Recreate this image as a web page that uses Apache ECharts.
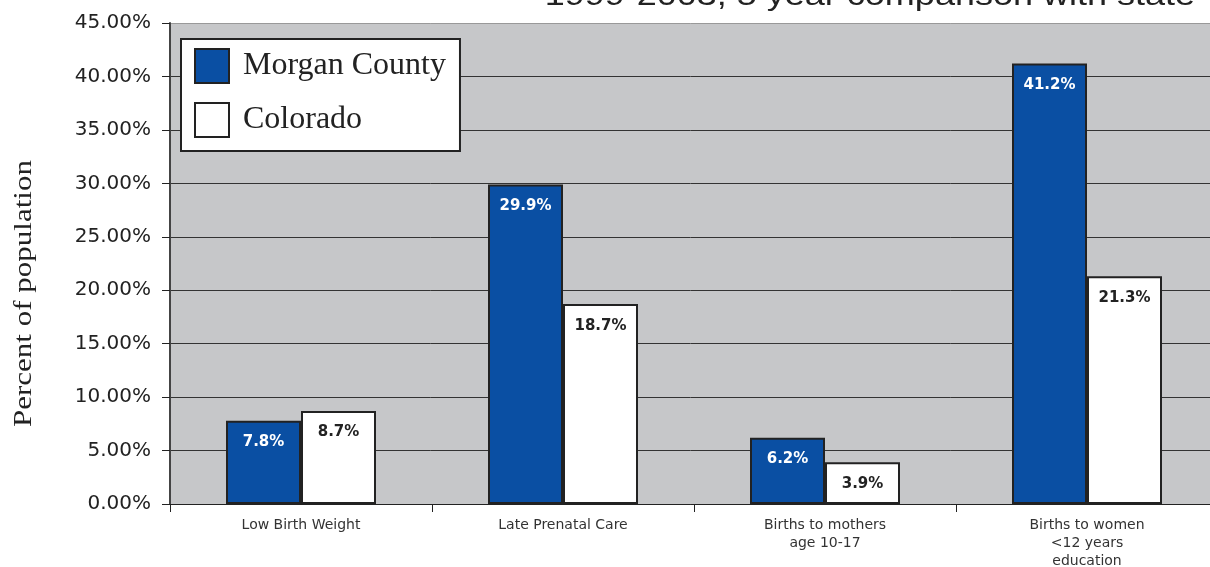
<!DOCTYPE html>
<html><head><meta charset="utf-8">
<script src="https://cdn.jsdelivr.net/npm/echarts@6/dist/echarts.min.js"></script>
<style>html,body{margin:0;padding:0;background:#fff;overflow:hidden}#c{width:1210px;height:567px}</style>
</head><body><div id="c"></div>
<script>
const categories = ['Low Birth Weight', 'Late Prenatal Care', 'Births to mothers\nage 10-17', 'Births to women\n<12 years\neducation'];
const morganCounty = [7.8, 29.9, 6.2, 41.2];
const colorado = [8.7, 18.7, 3.9, 21.3];
const seriesNames = ['Morgan County', 'Colorado'];
const titleText = '1999-2003, 5 year comparison with state';
const yAxisTitle = 'Percent of population';

const sans = '"DejaVu Sans", Verdana, sans-serif';
const serif = '"Liberation Serif", "Times New Roman", serif';
const chart = echarts.init(document.getElementById('c'));
const lineColors = ['#333','#333','#333','#333','#333','#333','#333','#333','#333','#999'];
chart.setOption({
  animation: false,
  graphic: [{
    type: 'text', x: 1195, y: -18, scaleX: 1.2,
    style: { text: titleText, font: '30px "Liberation Sans", Arial, sans-serif', fill: '#222', align: 'right', verticalAlign: 'top' }
  }, {
    type: 'text', x: 12, y: 427, rotation: Math.PI / 2, scaleX: 1.24,
    style: { text: yAxisTitle, font: '25px ' + serif, fill: '#222', align: 'left', verticalAlign: 'top' }
  }],
  legend: {
    orient: 'vertical', left: 181, top: 39,
    padding: [9, 14, 13, 13],
    icon: 'rect',
    itemWidth: 34, itemHeight: 34, itemGap: 18,
    backgroundColor: '#fff', borderColor: '#222', borderWidth: 2,
    textStyle: { fontFamily: serif, fontSize: 32, color: '#222', padding: [0, 0, 0, 9] },
    data: seriesNames
  },
  grid: { left: 170, top: 23, right: -8, bottom: 63, outerBoundsMode: 'none', containLabel: false, show: true, backgroundColor: '#c6c7c9', borderWidth: 0 },
  xAxis: {
    type: 'category', data: categories,
    axisLine: { lineStyle: { color: '#222', width: 1 } },
    axisTick: { show: true, length: 8, lineStyle: { color: '#222' } },
    axisLabel: { fontFamily: sans, fontSize: 14, color: '#333', lineHeight: 18, margin: 12 }
  },
  yAxis: {
    type: 'value', min: 0, max: 45, interval: 5,
    axisLine: { show: true, lineStyle: { color: '#444', width: 2 } },
    axisTick: { show: true, length: 8, lineStyle: { color: '#222' } },
    splitLine: { lineStyle: { color: lineColors, width: 1 } },
    axisLabel: { formatter: v => v.toFixed(2) + '%', fontFamily: sans, fontSize: 20, color: '#222', margin: 19 }
  },
  series: [{
    name: seriesNames[0], type: 'bar', data: morganCounty,
    barWidth: 75, barGap: '0%',
    itemStyle: { color: '#0a4fa3', borderColor: '#222', borderWidth: 2 },
    label: { show: true, position: 'insideTop', distance: 14, formatter: p => p.value.toFixed(1) + '%',
      fontFamily: sans, fontWeight: 'bold', fontSize: 15, color: '#fff' }
  }, {
    name: seriesNames[1], type: 'bar', data: colorado,
    barWidth: 75,
    itemStyle: { color: '#fff', borderColor: '#222', borderWidth: 2 },
    label: { show: true, position: 'insideTop', distance: 14, formatter: p => p.value.toFixed(1) + '%',
      fontFamily: sans, fontWeight: 'bold', fontSize: 15, color: '#222' }
  }]
});
</script></body></html>
